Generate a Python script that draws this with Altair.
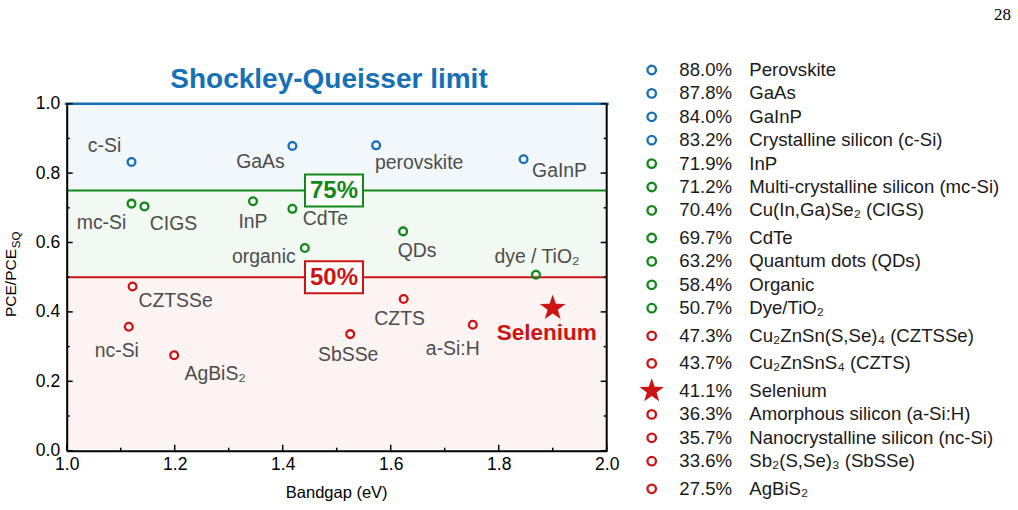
import math

import altair as alt
import pandas as pd

# ------------------------------------------------------------------
# Record efficiencies relative to the Shockley-Queisser (SQ) limit
# ------------------------------------------------------------------
materials = [
    "Perovskite", "GaAs", "GaInP", "Crystalline silicon (c-Si)", "InP",
    "Multi-crystalline silicon (mc-Si)", "Cu(In,Ga)Se₂ (CIGS)", "CdTe",
    "Quantum dots (QDs)", "Organic", "Dye/TiO₂", "Cu₂ZnSn(S,Se)₄ (CZTSSe)",
    "Cu₂ZnSnS₄ (CZTS)", "Selenium", "Amorphous silicon (a-Si:H)",
    "Nanocrystalline silicon (nc-Si)", "Sb₂(S,Se)₃ (SbSSe)", "AgBiS₂",
]
tags = [
    "perovskite", "GaAs", "GaInP", "c-Si", "InP", "mc-Si", "CIGS", "CdTe",
    "QDs", "organic", "dye / TiO₂", "CZTSSe", "CZTS", "Selenium", "a-Si:H",
    "nc-Si", "SbSSe", "AgBiS₂",
]
sq_percent = [88.0, 87.8, 84.0, 83.2, 71.9, 71.2, 70.4, 69.7, 63.2, 58.4,
              50.7, 47.3, 43.7, 41.1, 36.3, 35.7, 33.6, 27.5]
bandgap_ev = [1.573, 1.418, 1.846, 1.120, 1.345, 1.120, 1.144, 1.418, 1.623,
              1.441, 1.869, 1.122, 1.624, 1.900, 1.752, 1.115, 1.525, 1.199]
tier = ["high"] * 4 + ["mid"] * 7 + ["low"] * 7
highlight = "Selenium"

# axis ticks
x_major = [1.0, 1.2, 1.4, 1.6, 1.8, 2.0]
x_minor = [1.1, 1.3, 1.5, 1.7, 1.9]
y_major = [0.0, 0.2, 0.4, 0.6, 0.8, 1.0]
y_minor = [0.1, 0.3, 0.5, 0.7, 0.9]

# efficiency bands and reference levels
band_tiers = ["high", "mid", "low"]
band_low = [0.75, 0.50, 0.00]
band_high = [1.00, 0.75, 0.50]
box_levels = [0.75, 0.50]
box_texts = ["75%", "50%"]
box_tiers = ["mid", "low"]
box_bandgap = 1.495

# ------------------------------------------------------------------
# Styling
# ------------------------------------------------------------------
W, H = 540, 347
PAD = {"left": 66.7, "top": 103.7, "right": 1018 - 66.7 - 540, "bottom": 510 - 103.7 - 347}
FONT = "Liberation Sans"
BLUE, GREEN, RED = "#1570b5", "#11881a", "#cc1414"
LABEL_GREY = "#4d4d4d"

tier_scale = alt.Scale(domain=band_tiers, range=[BLUE, GREEN, RED])
band_scale = alt.Scale(domain=band_tiers, range=["#f2f7fb", "#f2f8f2", "#fcf3f3"])
x_scale = alt.Scale(domain=[1.0, 2.0], nice=False, zero=False)
y_scale = alt.Scale(domain=[0.0, 1.0], nice=False, zero=False)

x_axis = alt.Axis(values=x_major, format=".1f", ticks=False, tickSize=0, grid=False,
                  domainColor="black", domainWidth=2, labelFontSize=17.5,
                  labelColor="black", labelPadding=5, labelFlush=False,
                  labelOverlap=False, title="", zindex=1)
y_axis = alt.Axis(values=y_major, format=".1f", ticks=False, tickSize=0, grid=False,
                  domainColor="black", domainWidth=2, labelFontSize=17.5,
                  labelColor="black", labelPadding=7, labelFlush=False,
                  labelOverlap=False, title="", zindex=1)

# text offsets (px) of each point label from its marker
LABEL_OFFSETS = {
    "c-Si": (-27, -10), "GaAs": (-32, 22), "perovskite": (43, 24),
    "GaInP": (36, 18), "mc-Si": (-30, 25), "CIGS": (29, 24), "InP": (0, 27),
    "CdTe": (33, 16), "organic": (-41, 15), "QDs": (14, 26),
    "dye / TiO₂": (1, -12), "CZTSSe": (43, 20), "nc-Si": (-12, 30),
    "AgBiS₂": (41, 25), "SbSSe": (-2, 27), "CZTS": (-4, 26),
    "a-Si:H": (-20, 30), "Selenium": (-6, 32),
}


def star_path(inner=0.4):
    pts = []
    for k in range(10):
        r = 1.0 if k % 2 == 0 else inner
        a = math.radians(-90 + 36 * k)
        pts.append(f"{r * math.cos(a):.4f},{r * math.sin(a):.4f}")
    return "M" + "L".join(pts) + "Z"


STAR = star_path()
BOX = "M-1,-0.55L1,-0.55L1,0.55L-1,0.55Z"

one = pd.DataFrame({"k": [0]})
pts = pd.DataFrame({
    "material": materials, "tag": tags, "ratio": [v / 100 for v in sq_percent],
    "bandgap": bandgap_ev, "tier": tier,
})
X = alt.X("bandgap:Q", scale=x_scale, axis=x_axis)
Y = alt.Y("ratio:Q", scale=y_scale, axis=y_axis)

# ------------------------------------------------------------------
# Plot panel
# ------------------------------------------------------------------
bands = alt.Chart(pd.DataFrame({"tier": band_tiers, "lo": band_low, "hi": band_high})).mark_rect().encode(
    x=alt.value(0), x2=alt.value(W),
    y=alt.Y("lo:Q", scale=y_scale, axis=y_axis), y2="hi:Q",
    fill=alt.Fill("tier:N", scale=band_scale, legend=None),
)

levels = alt.Chart(pd.DataFrame({"tier": box_tiers, "lvl": box_levels})).mark_rule(strokeWidth=2).encode(
    x=alt.value(0), x2=alt.value(W),
    y=alt.Y("lvl:Q", scale=y_scale, axis=y_axis),
    color=alt.Color("tier:N", scale=tier_scale, legend=None),
)
sq_line = alt.Chart(one).mark_rule(strokeWidth=2.6, color=BLUE).encode(
    x=alt.value(-2), x2=alt.value(W + 2), y=alt.value(0)
)
right_frame = alt.Chart(one).mark_rule(strokeWidth=2, color="black").encode(
    x=alt.value(W), y=alt.value(0), y2=alt.value(H + 1)
)


def x_ticks(vals, length):
    return alt.Chart(pd.DataFrame({"v": vals})).mark_rule(color="black", strokeWidth=1.5).encode(
        x=alt.X("v:Q", scale=x_scale, axis=x_axis), y=alt.value(H), y2=alt.value(H - length)
    )


def y_ticks(vals, length, x0, sign):
    return alt.Chart(pd.DataFrame({"v": vals})).mark_rule(color="black", strokeWidth=1.5).encode(
        y=alt.Y("v:Q", scale=y_scale, axis=y_axis), x=alt.value(x0), x2=alt.value(x0 + sign * length)
    )


ticks = [
    x_ticks(x_major, 6), x_ticks(x_minor, 3),
    y_ticks(y_major, 6, 0, 1), y_ticks(y_minor, 3, 0, 1),
    y_ticks(y_major, 6, W, -1), y_ticks(y_minor, 3, W, -1),
]

circles = alt.Chart(pts[pts.tag != highlight]).mark_point(
    shape="circle", size=60, strokeWidth=2.3, filled=False, opacity=1
).encode(x=X, y=Y, color=alt.Color("tier:N", scale=tier_scale, legend=None))

star = alt.Chart(pts[pts.tag == highlight]).mark_point(
    shape=STAR, size=729, filled=True, opacity=1, color=RED, strokeWidth=0
).encode(x=X, y=Y)

labels = []
for tag, (dx, dy) in LABEL_OFFSETS.items():
    hl = tag == highlight
    labels.append(
        alt.Chart(pts[pts.tag == tag]).mark_text(
            align="center", baseline="alphabetic", dx=dx, dy=dy,
            fontSize=22.5 if hl else 19.4, fontWeight="bold" if hl else "normal",
            color=RED if hl else LABEL_GREY,
        ).encode(x=X, y=Y, text="tag:N")
    )

boxes = []
for lvl, txt, tr in zip(box_levels, box_texts, box_tiers):
    col = GREEN if tr == "mid" else RED
    d = pd.DataFrame({"bandgap": [box_bandgap], "ratio": [lvl], "txt": [txt]})
    boxes.append(alt.Chart(d).mark_point(
        shape=BOX, size=3364, filled=True, fill="white", stroke=col,
        strokeWidth=2, opacity=1, fillOpacity=1, strokeOpacity=1,
    ).encode(x=X, y=Y))
    boxes.append(alt.Chart(d).mark_text(
        fontSize=24, fontWeight="bold", color=col, align="center", baseline="middle", dy=1
    ).encode(x=X, y=Y, text="txt:N"))

title = alt.Chart(one).mark_text(
    text="Shockley-Queisser limit", fontSize=28, fontWeight="bold", color=BLUE,
    align="center", baseline="alphabetic",
).encode(x=alt.value(262.3), y=alt.value(-15.4))

x_title = alt.Chart(one).mark_text(
    text="Bandgap (eV)", fontSize=16.5, color="black", align="center", baseline="alphabetic"
).encode(x=alt.value(270), y=alt.value(394.3))

y_title = alt.Chart(one).mark_text(
    text="PCE/PCE", fontSize=15.5, color="black", angle=270, align="left", baseline="alphabetic"
).encode(x=alt.value(-50.7), y=alt.value(213.3))
y_title_sub = alt.Chart(one).mark_text(
    text="SQ", fontSize=11.5, color="black", angle=270, align="left", baseline="alphabetic"
).encode(x=alt.value(-46.7), y=alt.value(144.5))

page_no = alt.Chart(one).mark_text(
    text="28", font="Liberation Serif", fontSize=17, color="black", align="right", baseline="alphabetic"
).encode(x=alt.value(944.3), y=alt.value(-83.7))

main = alt.layer(
    bands, levels, sq_line, right_frame, *ticks, circles, star, *labels, *boxes,
    title, x_title, y_title, y_title_sub, page_no,
)

# ------------------------------------------------------------------
# Legend list: marker, ratio, material name
# ------------------------------------------------------------------
STEP, SUB_EXTRA, LEG_TOP = 23.4, 4.2, 33.7
SUBSCRIPTS = set("₀₁₂₃₄₅₆₇₈₉")
rows, r = [], 0.0
for m in materials:
    rows.append(r)
    r += STEP + (SUB_EXTRA if any(c in SUBSCRIPTS for c in m) else 0)

leg = pd.DataFrame({
    "material": materials, "pct": [f"{v:.1f}%" for v in sq_percent],
    "row": rows, "tier": tier, "tag": tags,
})
LY = alt.Y("row:Q", scale=alt.Scale(domain=[LEG_TOP, LEG_TOP + H], reverse=True, nice=False, zero=False), axis=None)

leg_circles = alt.Chart(leg[leg.tag != highlight]).mark_point(
    shape="circle", size=72, strokeWidth=2.3, filled=False, opacity=1
).encode(x=alt.value(585), y=LY, color=alt.Color("tier:N", scale=tier_scale, legend=None))
leg_star = alt.Chart(leg[leg.tag == highlight]).mark_point(
    shape=STAR, size=655, filled=True, opacity=1, color=RED, strokeWidth=0
).encode(x=alt.value(585), y=LY)
leg_pct = alt.Chart(leg).mark_text(
    fontSize=18.6, color="#1a1a1a", align="left", baseline="middle"
).encode(x=alt.value(612.6), y=LY, text="pct:N")
leg_name = alt.Chart(leg).mark_text(
    fontSize=18.6, color="#1a1a1a", align="left", baseline="middle"
).encode(x=alt.value(682.6), y=LY, text="material:N")

legend = alt.layer(leg_circles, leg_star, leg_pct, leg_name)

chart = (
    alt.layer(main, legend)
    .resolve_scale(y="independent")
    .properties(width=W, height=H, padding=PAD, autosize=alt.AutoSizeParams(type="none"))
    .configure(font=FONT)
    .configure_view(stroke="transparent")
)

chart.save("out.html", embed_options={"renderer": "svg", "actions": False})
